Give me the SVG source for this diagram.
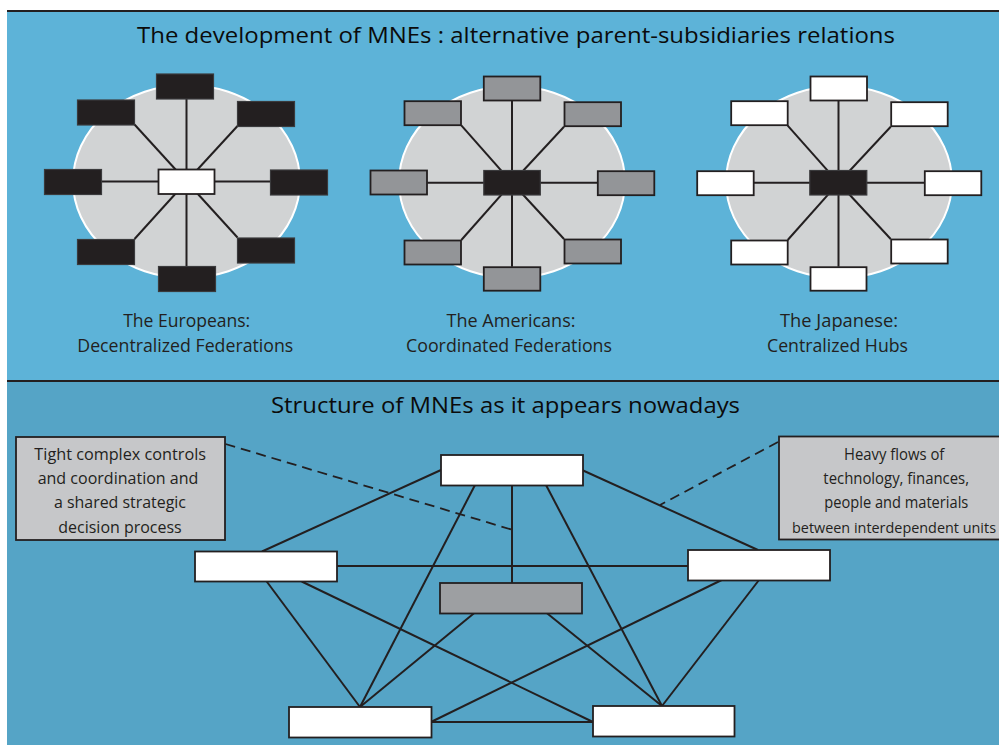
<svg xmlns="http://www.w3.org/2000/svg" width="999" height="745" viewBox="0 0 999 745">
<style>
.pt{fill:#5db3d8}
.pb{fill:#55a4c6}
.edge{stroke:#231f20;stroke-width:2}
.disc{fill:#d1d3d4;stroke:#ffffff;stroke-width:2}
.ln{stroke:#231f20;stroke-width:2;fill:none;stroke-linecap:butt}
.dash{stroke:#231f20;stroke-width:1.8;fill:none;stroke-dasharray:10 6}
.blk{fill:#231f20;stroke:#3a3a3c;stroke-width:1.2}
.gry{fill:#939598;stroke:#231f20;stroke-width:1.8}
.wht{fill:#ffffff;stroke:#231f20;stroke-width:1.8}
.cg{fill:#9d9fa2;stroke:#231f20;stroke-width:1.8}
.note{fill:#c6c7c9;stroke:#231f20;stroke-width:1.8}
text{font-family:"Open Sans","Noto Sans","Liberation Sans",sans-serif;text-anchor:middle}
.ttl{font-size:21px;fill:#0b0b0b}
.lbl{font-size:17.5px;fill:#231f20}
.nt{font-size:16px;fill:#231f20}
</style>
<g id="background">
<rect x="0" y="0" width="999" height="745" fill="#ffffff"/>
<rect class="pt" x="7" y="11" width="992" height="370"/>
<rect class="pb" x="7" y="381" width="992" height="364"/>
<line class="edge" x1="7" y1="11" x2="999" y2="11"/>
<line class="edge" x1="7" y1="381" x2="999" y2="381"/>
</g>
<g id="discs">
<ellipse class="disc" cx="186.5" cy="181.5" rx="113.5" ry="96.5"/>
<ellipse class="disc" cx="512" cy="182" rx="113" ry="96"/>
<ellipse class="disc" cx="839" cy="182" rx="113" ry="96"/>
</g>
<g id="connectors">
<g id="eu-spokes">
<line class="ln" x1="186.5" y1="181.5" x2="186.5" y2="99"/>
<line class="ln" x1="186.5" y1="181.5" x2="134.5" y2="124.5"/>
<line class="ln" x1="186.5" y1="181.5" x2="237.5" y2="126"/>
<line class="ln" x1="186.5" y1="181.5" x2="101.5" y2="181.5"/>
<line class="ln" x1="186.5" y1="181.5" x2="270.5" y2="181.5"/>
<line class="ln" x1="186.5" y1="181.5" x2="134.5" y2="239"/>
<line class="ln" x1="186.5" y1="181.5" x2="237.5" y2="237.5"/>
<line class="ln" x1="186.5" y1="181.5" x2="186.5" y2="266"/>
</g>
<g id="am-spokes">
<line class="ln" x1="512" y1="182.7" x2="512" y2="101"/>
<line class="ln" x1="512" y1="182.7" x2="461.3" y2="125.3"/>
<line class="ln" x1="512" y1="182.7" x2="564" y2="126.7"/>
<line class="ln" x1="512" y1="182.7" x2="427.3" y2="182.7"/>
<line class="ln" x1="512" y1="182.7" x2="597.3" y2="182.7"/>
<line class="ln" x1="512" y1="182.7" x2="461.3" y2="240"/>
<line class="ln" x1="512" y1="182.7" x2="564" y2="239"/>
<line class="ln" x1="512" y1="182.7" x2="512" y2="266.7"/>
</g>
<g id="jp-spokes">
<line class="ln" x1="838.5" y1="182.8" x2="838.5" y2="101"/>
<line class="ln" x1="838.5" y1="182.8" x2="787.7" y2="125.7"/>
<line class="ln" x1="838.5" y1="182.8" x2="890.7" y2="126.7"/>
<line class="ln" x1="838.5" y1="182.8" x2="754" y2="182.8"/>
<line class="ln" x1="838.5" y1="182.8" x2="924.3" y2="182.8"/>
<line class="ln" x1="838.5" y1="182.8" x2="787.7" y2="240"/>
<line class="ln" x1="838.5" y1="182.8" x2="890.7" y2="239"/>
<line class="ln" x1="838.5" y1="182.8" x2="838.5" y2="266.7"/>
</g>
<g id="network-links">
<line class="ln" x1="441" y1="470" x2="262" y2="551.5"/>
<line class="ln" x1="582" y1="470" x2="758" y2="550"/>
<line class="ln" x1="475" y1="485" x2="360" y2="707"/>
<line class="ln" x1="546" y1="485" x2="662" y2="706"/>
<line class="ln" x1="512" y1="485" x2="512" y2="583"/>
<line class="ln" x1="337" y1="566" x2="688" y2="566"/>
<line class="ln" x1="266.7" y1="581.5" x2="360" y2="707"/>
<line class="ln" x1="301.7" y1="581.5" x2="593" y2="722"/>
<line class="ln" x1="721.7" y1="580" x2="431" y2="722"/>
<line class="ln" x1="759" y1="580" x2="662" y2="706"/>
<line class="ln" x1="474.3" y1="613" x2="360" y2="707"/>
<line class="ln" x1="546.7" y1="613" x2="662" y2="706"/>
<line class="ln" x1="431" y1="722" x2="593" y2="722"/>
</g>
<g id="callout-links">
<line class="dash" x1="225.5" y1="444" x2="513" y2="530"/>
<line class="dash" x1="778" y1="442" x2="660" y2="505"/>
</g>
</g>
<g id="nodes">
<g id="eu-hub"><rect class="wht" x="158.5" y="169.5" width="56" height="24.5"/></g>
<g id="eu-n"><rect class="blk" x="156.5" y="74" width="57" height="25"/></g>
<g id="eu-nw"><rect class="blk" x="77.5" y="100" width="57" height="25"/></g>
<g id="eu-ne"><rect class="blk" x="237.5" y="101.5" width="57" height="25"/></g>
<g id="eu-w"><rect class="blk" x="44.5" y="169.5" width="57" height="25"/></g>
<g id="eu-e"><rect class="blk" x="270.5" y="170" width="57" height="25"/></g>
<g id="eu-sw"><rect class="blk" x="77.5" y="239.5" width="57" height="25"/></g>
<g id="eu-se"><rect class="blk" x="237.5" y="238" width="57" height="25"/></g>
<g id="eu-s"><rect class="blk" x="158.5" y="266.5" width="57" height="25"/></g>

<g id="am-hub"><rect class="blk" x="483.8" y="170.5" width="56.5" height="24.5"/></g>
<g id="am-n"><rect class="gry" x="483.8" y="76.5" width="56.5" height="24"/></g>
<g id="am-nw"><rect class="gry" x="404.5" y="101.2" width="56.5" height="24"/></g>
<g id="am-ne"><rect class="gry" x="564.5" y="102.2" width="56.5" height="24"/></g>
<g id="am-w"><rect class="gry" x="370.5" y="170.5" width="56.5" height="24"/></g>
<g id="am-e"><rect class="gry" x="597.8" y="171.2" width="56.5" height="24"/></g>
<g id="am-sw"><rect class="gry" x="404.5" y="240.5" width="56.5" height="24"/></g>
<g id="am-se"><rect class="gry" x="564.5" y="239.5" width="56.5" height="24"/></g>
<g id="am-s"><rect class="gry" x="483.8" y="267.2" width="56.5" height="23.5"/></g>

<g id="jp-hub"><rect class="blk" x="809.8" y="170.5" width="57" height="24.5"/></g>
<g id="jp-n"><rect class="wht" x="810.5" y="76.5" width="56.5" height="24"/></g>
<g id="jp-nw"><rect class="wht" x="731.2" y="101.2" width="56.5" height="24"/></g>
<g id="jp-ne"><rect class="wht" x="891.2" y="102.2" width="56.5" height="24"/></g>
<g id="jp-w"><rect class="wht" x="697.2" y="171.2" width="56.5" height="24"/></g>
<g id="jp-e"><rect class="wht" x="924.8" y="171.2" width="56.5" height="24"/></g>
<g id="jp-sw"><rect class="wht" x="731.2" y="240.5" width="56.5" height="24"/></g>
<g id="jp-se"><rect class="wht" x="891.2" y="239.5" width="56.5" height="24"/></g>
<g id="jp-s"><rect class="wht" x="810.5" y="267.2" width="56" height="23.5"/></g>

<g id="net-top"><rect class="wht" x="441" y="455" width="142" height="30.5"/></g>
<g id="net-left"><rect class="wht" x="195" y="551.5" width="142" height="30"/></g>
<g id="net-right"><rect class="wht" x="688" y="550" width="142" height="30.5"/></g>
<g id="net-center"><rect class="cg" x="440" y="583" width="142" height="30.5"/></g>
<g id="net-bottom-left"><rect class="wht" x="289" y="707" width="142.5" height="30.5"/></g>
<g id="net-bottom-right"><rect class="wht" x="593" y="706" width="141.5" height="30.5"/></g>

<g id="note-left">
<rect class="note" x="16" y="437" width="209" height="103"/>
<text class="nt" x="120.2" y="460" textLength="171.7" lengthAdjust="spacingAndGlyphs">Tight complex controls</text>
<text class="nt" x="118" y="484" textLength="160.7" lengthAdjust="spacingAndGlyphs">and coordination and</text>
<text class="nt" x="120" y="508.3" textLength="132" lengthAdjust="spacingAndGlyphs">a shared strategic</text>
<text class="nt" x="120" y="533.3" textLength="123.3" lengthAdjust="spacingAndGlyphs">decision process</text>
</g>
<g id="note-right">
<rect class="note" x="779" y="436.5" width="222" height="103"/>
<text class="nt" x="894.2" y="460" textLength="100.3" lengthAdjust="spacingAndGlyphs">Heavy flows of</text>
<text class="nt" x="896.2" y="484.3" textLength="145.7" lengthAdjust="spacingAndGlyphs">technology, finances,</text>
<text class="nt" x="896.3" y="508.3" textLength="144" lengthAdjust="spacingAndGlyphs">people and materials</text>
<text class="nt" x="894" y="532.7" font-size="14" style="font-size:14px" textLength="204" lengthAdjust="spacingAndGlyphs">between interdependent units</text>
</g>
</g>
<g id="labels">
<text class="ttl" x="516" y="43" textLength="758" lengthAdjust="spacingAndGlyphs">The development of MNEs : alternative parent-subsidiaries relations</text>
<text class="lbl" x="186.7" y="327" textLength="127" lengthAdjust="spacingAndGlyphs">The Europeans:</text>
<text class="lbl" x="185.3" y="352" textLength="216" lengthAdjust="spacingAndGlyphs">Decentralized Federations</text>
<text class="lbl" x="511" y="327" textLength="129" lengthAdjust="spacingAndGlyphs">The Americans:</text>
<text class="lbl" x="509" y="352" textLength="206" lengthAdjust="spacingAndGlyphs">Coordinated Federations</text>
<text class="lbl" x="839" y="327" textLength="118" lengthAdjust="spacingAndGlyphs">The Japanese:</text>
<text class="lbl" x="837.5" y="352" textLength="141" lengthAdjust="spacingAndGlyphs">Centralized Hubs</text>
<text class="ttl" x="505.5" y="413" font-size="22" textLength="469" lengthAdjust="spacingAndGlyphs">Structure of MNEs as it appears nowadays</text>
</g>
</svg>
